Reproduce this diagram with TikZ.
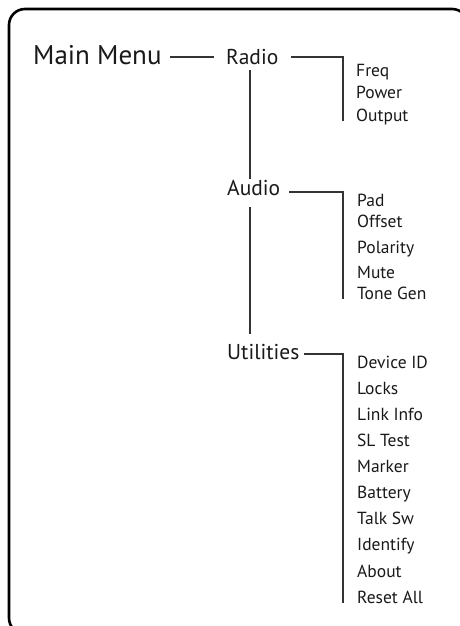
\documentclass[tikz,border=0pt]{standalone}
\usepackage{fontspec}
\setmainfont{PT Sans}
\begin{document}
\begin{tikzpicture}[x=1pt,y=1pt,
  lbl/.style={anchor=base west,inner sep=0pt,text=black!90},
  top/.style={lbl,font=\fontsize{27}{29}\selectfont},
  mid/.style={lbl,font=\fontsize{21.5}{24}\selectfont},
  leaf/.style={lbl,font=\fontsize{17.5}{19}\selectfont},
  conn/.style={line width=1.3pt,draw=black!80}]
\useasboundingbox (0,0) rectangle (460,-626);
\begin{scope}
\clip (0,0) rectangle (460,-626);
\draw[line width=2.6pt,rounded corners=16pt] (9,-9) rectangle (468,-634);
\end{scope}
\node[top] (mm) at (33,-64) {Main Menu};
\node[mid] (radio) at (226,-64) {Radio};
\node[mid] (audio) at (227,-195) {Audio};
\node[mid] (util) at (227,-359) {Utilities};
% radio leaves
\node[leaf] (freq) at (356,-76) {Freq};
\node[leaf] (power) at (356,-98) {Power};
\node[leaf] (output) at (356,-121) {Output};
% audio leaves
\node[leaf] (pad) at (357,-206) {Pad};
\node[leaf] (offset) at (357,-227) {Offset};
\node[leaf] (polarity) at (357,-253) {Polarity};
\node[leaf] (mute) at (357,-278) {Mute};
\node[leaf] (tone) at (357,-299) {Tone Gen};
% utilities leaves
\node[leaf] (dev) at (357,-368) {Device ID};
\node[leaf] (locks) at (357,-394) {Locks};
\node[leaf] (link) at (357,-420) {Link Info};
\node[leaf] (sl) at (357,-446) {SL Test};
\node[leaf] (marker) at (357,-472) {Marker};
\node[leaf] (battery) at (357,-498) {Battery};
\node[leaf] (talk) at (357,-524) {Talk Sw};
\node[leaf] (ident) at (357,-550) {Identify};
\node[leaf] (about) at (357,-577) {About};
\node[leaf] (reset) at (357,-603) {Reset All};
% junctions
\coordinate (sp) at (250,0);
\coordinate (bx) at (343,0);
% main -> radio
\draw[conn] ([xshift=8pt,yshift=7pt]mm.base east) -- ([xshift=-12pt,yshift=7pt]radio.base west);
% spine
\draw[conn] ([yshift=-6pt]radio.south -| sp) -- ([yshift=1pt]audio.north -| sp);
\draw[conn] ([yshift=-12pt]audio.base -| sp) -- ([yshift=25pt]util.base -| sp);
% branches
\draw[conn] ([xshift=13pt,yshift=7pt]radio.base east) -| (output.base -| bx);
\draw[conn] ([xshift=9pt,yshift=3pt]audio.base east) -| (tone.base -| bx);
\draw[conn] ([xshift=4pt,yshift=5pt]util.base east) -| (reset.base -| bx);
\end{tikzpicture}
\end{document}
